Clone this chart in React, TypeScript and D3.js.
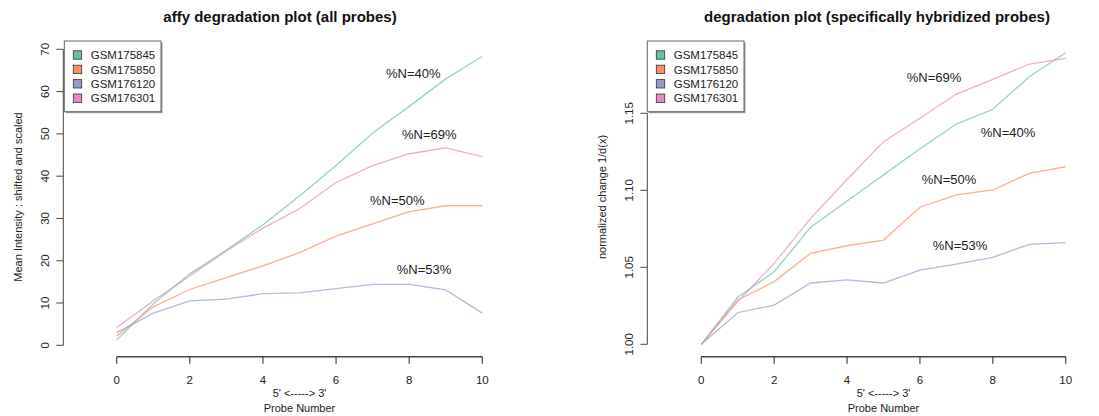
import React from "react";
import * as d3 from "d3";

const probes = [0, 1, 2, 3, 4, 5, 6, 7, 8, 9, 10];
const samples = ["GSM175845", "GSM175850", "GSM176120", "GSM176301"];
const colors = ["#66C2A5", "#FC8D62", "#8DA0CB", "#E78AC3"];

// Left panel: all probes
const allGSM175845 = [1.25, 9.8, 16.9, 22.5, 28.5, 35.3, 42.5, 50.2, 56.5, 63.0, 68.3];
const allGSM175850 = [2.2, 9.1, 13.2, 16.0, 18.8, 21.9, 25.8, 28.7, 31.6, 33.0, 33.0];
const allGSM176120 = [3.0, 7.6, 10.5, 10.9, 12.2, 12.4, 13.4, 14.4, 14.4, 13.1, 7.6];
const allGSM176301 = [4.2, 10.5, 16.4, 22.3, 27.7, 32.3, 38.5, 42.5, 45.3, 46.7, 44.6];
const allYTicks = [0, 10, 20, 30, 40, 50, 60, 70];
const allLabels = ["%N=40%", "%N=50%", "%N=53%", "%N=69%"];

// Right panel: specifically hybridized probes
const specGSM175845 = [1.0, 1.0305, 1.0471, 1.076, 1.093, 1.110, 1.127, 1.143, 1.1526, 1.1738, 1.1893];
const specGSM175850 = [1.0, 1.0288, 1.0407, 1.0591, 1.064, 1.0677, 1.089, 1.097, 1.1002, 1.111, 1.1153];
const specGSM176120 = [1.0, 1.0205, 1.0255, 1.0398, 1.0418, 1.0398, 1.0482, 1.0521, 1.0565, 1.0649, 1.066];
const specGSM176301 = [1.0, 1.0277, 1.0526, 1.0818, 1.107, 1.1316, 1.1468, 1.1625, 1.172, 1.182, 1.1857];
const specYTicks = [1.0, 1.05, 1.1, 1.15];
const specLabels = ["%N=40%", "%N=50%", "%N=53%", "%N=69%"];

const xTicks = [0, 2, 4, 6, 8, 10];

const FONT = "'Liberation Sans', Arial, Helvetica, sans-serif";

type PanelProps = {
  title: string;
  titleX: number;
  yTitle: string;
  series: number[][];
  yTicks: number[];
  yFormat: (v: number) => string;
  xRange: [number, number];
  yDomain: [number, number];
  yRange: [number, number];
  axisX: number;
  labels: string[];
  labelPos: [number, number][];
  legendX: number;
};

function Panel(p: PanelProps) {
  const x = d3.scaleLinear().domain([0, 10]).range(p.xRange);
  const y = d3.scaleLinear().domain(p.yDomain).range(p.yRange);
  const line = d3
    .line<number>()
    .x((_, i) => x(probes[i]))
    .y((d) => y(d));
  const axisY = 356.7;
  const yMid = 197;
  const axisCol = "#444";
  const legendY = 41;
  const legendW = 96.7;
  const legendH = 70.7;
  return (
    <g fontFamily={FONT}>
      <text x={p.titleX} y={22} textAnchor="middle" fontSize={15} fontWeight="bold" fill="#111">
        {p.title}
      </text>
      {/* y axis */}
      <line x1={p.axisX} x2={p.axisX} y1={y(p.yTicks[0])} y2={y(p.yTicks[p.yTicks.length - 1])} stroke={axisCol} strokeWidth={1} />
      {p.yTicks.map((t) => (
        <g key={t}>
          <line x1={p.axisX - 7} x2={p.axisX} y1={y(t)} y2={y(t)} stroke={axisCol} />
          <text
            transform={`translate(${p.axisX - 14},${y(t)}) rotate(-90)`}
            textAnchor="middle"
            fontSize={11.5}
            fill="#222"
          >
            {p.yFormat(t)}
          </text>
        </g>
      ))}
      <text
        transform={`translate(${p.axisX - 41},${yMid}) rotate(-90)`}
        textAnchor="middle"
        fontSize={11}
        fill="#222"
      >
        {p.yTitle}
      </text>
      {/* x axis */}
      <line x1={x(0)} x2={x(10)} y1={axisY} y2={axisY} stroke={axisCol} strokeWidth={1.5} />
      {xTicks.map((t) => (
        <g key={t}>
          <line x1={x(t)} x2={x(t)} y1={axisY} y2={axisY + 7} stroke={axisCol} strokeWidth={1.2} />
          <text x={x(t)} y={384} textAnchor="middle" fontSize={11.5} fill="#222">
            {t}
          </text>
        </g>
      ))}
      <text x={(x(0) + x(10)) / 2} y={397} textAnchor="middle" fontSize={11} fill="#222">
        {"5' <-----> 3'"}
      </text>
      <text x={(x(0) + x(10)) / 2} y={412} textAnchor="middle" fontSize={11} fill="#222">
        Probe Number
      </text>
      {/* lines */}
      {p.series.map((s, i) => (
        <path key={i} d={line(s) || ""} fill="none" stroke={colors[i]} strokeOpacity={0.7} strokeWidth={1.3} />
      ))}
      {/* annotations */}
      {p.labels.map((l, i) => (
        <text key={i} x={p.labelPos[i][0]} y={p.labelPos[i][1] + 4.5} textAnchor="middle" fontSize={13} fill="#222">
          {l}
        </text>
      ))}
      {/* legend */}
      <rect x={p.legendX + 1.5} y={legendY + 1.5} width={legendW} height={legendH} fill="#999" />
      <rect x={p.legendX} y={legendY} width={legendW} height={legendH} fill="#fff" stroke="#666" strokeWidth={1} />
      {samples.map((s, i) => (
        <g key={s}>
          <rect x={p.legendX + 9} y={legendY + 14 + i * 14.4 - 4.2} width={8.4} height={8.4} fill={colors[i]} stroke="#333" strokeWidth={0.8} />
          <text x={p.legendX + 26.4} y={legendY + 14 + i * 14.4 + 4.2} fontSize={11.5} fill="#222">
            {s}
          </text>
        </g>
      ))}
    </g>
  );
}

export default function App() {
  return (
    <svg width={1099} height={416} style={{ position: "absolute", left: 0, top: 0, background: "#fff" }}>
      <rect width={1099} height={416} fill="#fff" />
      <Panel
        title="affy degradation plot (all probes)"
        titleX={280}
        yTitle="Mean Intensity : shifted and scaled"
        series={[allGSM175845, allGSM175850, allGSM176120, allGSM176301]}
        yTicks={allYTicks}
        yFormat={(v) => String(v)}
        xRange={[116.7, 482.3]}
        yDomain={[0, 70]}
        yRange={[345.3, 49.3]}
        axisX={63.3}
        labels={allLabels}
        labelPos={[[413.3, 73.3], [397.3, 200], [424, 269.3], [429.3, 134.3]]}
        legendX={64.3}
      />
      <Panel
        title="degradation plot (specifically hybridized probes)"
        titleX={877}
        yTitle="normalized change 1/d(x)"
        series={[specGSM175845, specGSM175850, specGSM176120, specGSM176301]}
        yTicks={specYTicks}
        yFormat={d3.format(".2f")}
        xRange={[701.3, 1065.7]}
        yDomain={[1.0, 1.15]}
        yRange={[344.3, 113.3]}
        axisX={647.3}
        labels={specLabels}
        labelPos={[[1008, 132.7], [949, 179], [960, 245], [934, 77.7]]}
        legendX={647.3}
      />
    </svg>
  );
}
